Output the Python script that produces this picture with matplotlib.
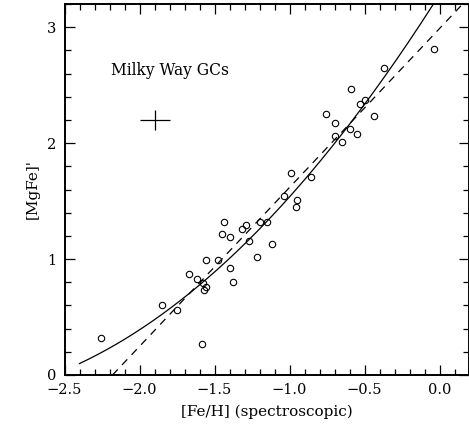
"""Milky Way globular clusters: [MgFe]' against spectroscopic [Fe/H]."""

from pathlib import Path

import matplotlib

matplotlib.use("Agg")

import matplotlib.pyplot as plt
import numpy as np
from matplotlib.ticker import MultipleLocator

feh = [
    -2.26, -1.85, -1.753, -1.582, -1.673, -1.62, -1.58, -1.56, -1.573, -1.56,
    -1.48, -1.40, -1.38, -1.44, -1.453, -1.40, -1.32, -1.287, -1.267, -1.22,
    -1.20, -1.153, -1.12, -1.04, -0.947, -0.96, -0.987, -0.86, -0.70, -0.653,
    -0.60, -0.547, -0.70, -0.76, -0.44, -0.531, -0.50, -0.587, -0.373, -0.04,
]
mgfe = [
    0.32, 0.60, 0.56, 0.27, 0.87, 0.83, 0.79, 0.76, 0.73, 0.99,
    0.99, 0.92, 0.80, 1.32, 1.22, 1.19, 1.26, 1.29, 1.16, 1.02,
    1.32, 1.32, 1.13, 1.54, 1.51, 1.45, 1.74, 1.71, 2.06, 2.01,
    2.12, 2.08, 2.17, 2.25, 2.23, 2.336, 2.37, 2.47, 2.65, 2.81,
]

# quadratic calibration (solid) and linear relation (dashed)
quad_coeffs = [0.2996, 2.0457, 3.2827]
quad_range = [-2.4, 0.2]
lin_slope = 1.371
lin_zero = -2.18

# typical error bar
err_x, err_y = -1.9, 2.2
err_dx, err_dy = 0.1, 0.09

label_text = "Milky Way GCs"
label_pos = (-2.19, 2.63)


def plot_calibration(path: str | Path) -> Path:
    output = Path(path)
    plt.rcParams["font.family"] = ["DejaVu Serif"]
    plt.rcParams["lines.scale_dashes"] = False

    fig = plt.figure(figsize=(4.69, 4.26), dpi=100)
    axis = fig.add_axes([64.5 / 469, 51 / 426, 404 / 469, 371 / 426])

    axis.plot(feh, mgfe, "o", mfc="none", mec="black", ms=4.6, mew=0.8)

    xs = np.linspace(quad_range[0], quad_range[1], 300)
    axis.plot(xs, np.polyval(quad_coeffs, xs), color="black", lw=0.9)
    xl = np.linspace(lin_zero, 0.3, 50)
    axis.plot(xl, lin_slope * (xl - lin_zero), color="black", lw=0.9,
              linestyle=(0, (5.5, 4.5)))

    axis.errorbar([err_x], [err_y], xerr=[err_dx], yerr=[err_dy], fmt="none",
                  ecolor="black", elinewidth=0.9, capsize=0)
    axis.text(*label_pos, label_text, fontsize=11.2, va="center", ha="left")

    axis.set_xlim(-2.5, 0.193)
    axis.set_ylim(0, 3.2)
    axis.xaxis.set_major_locator(MultipleLocator(0.5))
    axis.xaxis.set_minor_locator(MultipleLocator(0.1))
    axis.yaxis.set_major_locator(MultipleLocator(1))
    axis.yaxis.set_minor_locator(MultipleLocator(0.2))
    axis.tick_params(which="both", direction="in", top=True, right=True,
                     labelsize=10.5, width=0.9)
    axis.tick_params(which="major", length=7.5, pad=6)
    axis.tick_params(which="minor", length=4)
    for spine in axis.spines.values():
        spine.set_linewidth(1.4)

    axis.set_xlabel("[Fe/H] (spectroscopic)", fontsize=11, labelpad=5)
    axis.set_ylabel("[MgFe]'", fontsize=11, labelpad=5)

    fig.savefig(output, dpi=100)
    plt.close(fig)
    return output


if __name__ == "__main__":
    plot_calibration("out.png")
